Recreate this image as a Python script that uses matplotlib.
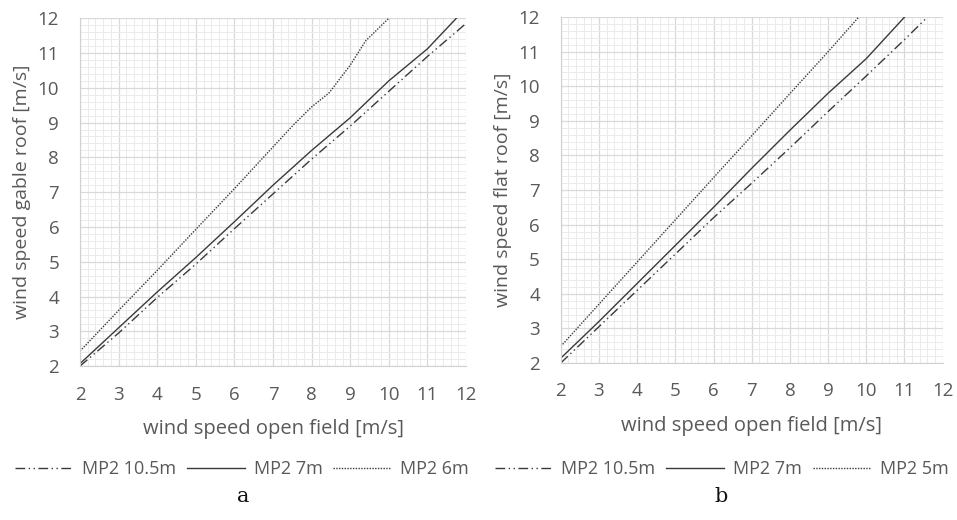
import matplotlib
matplotlib.use("Agg")
import matplotlib.pyplot as plt
from matplotlib.ticker import MultipleLocator

# ---- data ----
# panel a: gable roof
a_x_105 = [2, 3, 4, 5, 6, 7, 8, 9, 10, 11, 12]
a_y_105 = [2.0, 2.95, 3.97, 4.93, 5.95, 6.95, 7.95, 8.9, 9.9, 10.9, 11.85]
a_x_7 = [2, 3, 4, 5, 6, 7, 8, 9, 10, 11, 11.75]
a_y_7 = [2.07, 3.1, 4.13, 5.12, 6.15, 7.2, 8.2, 9.14, 10.2, 11.12, 12.0]
a_x_6 = [2, 3, 4, 5, 6, 7, 7.5, 8, 8.45, 9, 9.4, 10]
a_y_6 = [2.43, 3.6, 4.75, 5.93, 7.1, 8.3, 8.9, 9.45, 9.85, 10.65, 11.35, 12.0]

# panel b: flat roof
b_x_105 = [2, 3, 4, 5, 6, 7, 8, 9, 10, 11, 11.6]
b_y_105 = [2.0, 3.05, 4.1, 5.15, 6.2, 7.2, 8.22, 9.27, 10.3, 11.35, 12.0]
b_x_7 = [2, 3, 4, 5, 6, 7, 8, 9, 10, 11]
b_y_7 = [2.14, 3.2, 4.3, 5.4, 6.5, 7.63, 8.73, 9.8, 10.8, 12.0]
b_x_5 = [2, 3, 4, 5, 6, 7, 8, 9, 9.8]
b_y_5 = [2.48, 3.7, 4.92, 6.14, 7.36, 8.57, 9.79, 11.0, 12.0]

ticks = [2, 3, 4, 5, 6, 7, 8, 9, 10, 11, 12]
xlabel = "wind speed open field [m/s]"
ylabel_a = "wind speed gable roof [m/s]"
ylabel_b = "wind speed flat roof [m/s]"
labels_a = ["MP2 10.5m", "MP2 7m", "MP2 6m"]
labels_b = ["MP2 10.5m", "MP2 7m", "MP2 5m"]

plt.rcParams['font.family'] = ['Open Sans', 'DejaVu Sans']
TXT = "#595959"
LC = "#3a3a3a"

fig = plt.figure(figsize=(9.57, 5.20), dpi=100)
ax_a = fig.add_axes([0.0836, 0.296, 0.4034, 0.669])
ax_b = fig.add_axes([0.586, 0.302, 0.399, 0.665])

styles = [(0, (7, 2.5, 1, 2.5, 1, 2.5)), '-', (0, (1, 1))]

def setup(ax, series, labels, ylabel, legx):
    handles = []
    for (xs, ys), ls, lab in zip(series, styles, labels):
        h, = ax.plot(xs, ys, color=LC, lw=1.0, ls=ls, label=lab)
        handles.append(h)
    ax.set_xlim(2, 12)
    ax.set_ylim(2, 12)
    ax.set_xticks(ticks)
    ax.set_yticks(ticks)
    ax.xaxis.set_minor_locator(MultipleLocator(0.2))
    ax.yaxis.set_minor_locator(MultipleLocator(0.2))
    ax.grid(which='major', color='#d9d9d9', lw=0.9)
    ax.grid(which='minor', color='#ebebeb', lw=0.7)
    ax.set_axisbelow(True)
    for s in ax.spines.values():
        s.set_visible(False)
    ax.spines['bottom'].set_visible(True)
    ax.spines['bottom'].set_color('#d0d0d0')
    ax.spines['left'].set_visible(True)
    ax.spines['left'].set_color('#d0d0d0')
    ax.tick_params(which='both', length=0, labelsize=13.5, colors=TXT)
    ax.tick_params(axis='x', pad=14)
    ax.tick_params(axis='y', pad=15)
    ax.set_xlabel(xlabel, fontsize=14.5, color=TXT, labelpad=11)
    ax.set_ylabel(ylabel, fontsize=14, color=TXT, labelpad=5)
    fig.legend(handles=handles, loc='center', bbox_to_anchor=(legx, 0.098),
               ncol=3, frameon=False, fontsize=13, labelcolor=TXT,
               handlelength=3.2, handletextpad=0.5, columnspacing=0.6,
               borderaxespad=0, borderpad=0)

setup(ax_a, [(a_x_105, a_y_105), (a_x_7, a_y_7), (a_x_6, a_y_6)], labels_a, ylabel_a, 0.253)
setup(ax_b, [(b_x_105, b_y_105), (b_x_7, b_y_7), (b_x_5, b_y_5)], labels_b, ylabel_b, 0.754)

fig.text(243 / 957, 1 - 497 / 520, "a", family='DejaVu Serif', fontsize=15,
         ha='center', va='center', color='#111111')
fig.text(721 / 957, 1 - 497 / 520, "b", family='DejaVu Serif', fontsize=15,
         ha='center', va='center', color='#111111')

fig.savefig("out.png", dpi=100)
